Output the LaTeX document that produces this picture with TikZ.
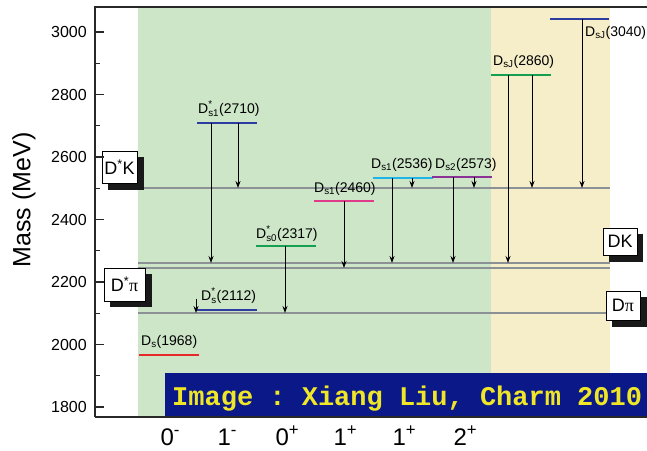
\documentclass[tikz,border=0pt]{standalone}
\usepackage{fontspec}
\usepackage{amsmath}
\setmainfont{Liberation Sans}
\setmonofont{Liberation Mono}
\newfontfamily\grfont{Liberation Serif}
\usetikzlibrary{arrows.meta}
\definecolor{bggreen}{RGB}{205,230,200}
\definecolor{bgyellow}{RGB}{245,238,200}
\definecolor{thr}{RGB}{140,145,150}
\definecolor{bannerbg}{RGB}{10,25,135}
\definecolor{bannertxt}{RGB}{240,230,40}
\definecolor{lvred}{RGB}{232,40,40}
\definecolor{lvblue}{RGB}{45,60,160}
\definecolor{lvgreen}{RGB}{20,160,80}
\definecolor{lvpink}{RGB}{225,60,140}
\definecolor{lvcyan}{RGB}{30,180,230}
\definecolor{lvpurple}{RGB}{140,50,150}
\definecolor{axisc}{RGB}{40,40,40}
\definecolor{shadowc}{RGB}{25,25,25}
\tikzset{
  thrline/.style={draw=thr, line width=2pt},
  lvline/.style={line width=2.4pt},
  decay/.style={draw=black, line width=0.9pt, -{Stealth[length=7pt,width=5pt]}},
  lvlabel/.style={anchor=base west, inner sep=0pt, font=\fontsize{14}{16}\selectfont},
  thbox/.style={draw=black, fill=white, line width=0.8pt, inner sep=0pt,
     font=\fontsize{18}{20}\selectfont},
  ticklabel/.style={anchor=east, inner sep=0pt, font=\fontsize{16}{18}\selectfont},
  jplabel/.style={anchor=base west, inner sep=0pt, font=\fontsize{24}{26}\selectfont},
  axisline/.style={draw=axisc, line width=1.5pt},
}
\begin{document}
\begin{tikzpicture}[x=1pt,y=-1pt]
\useasboundingbox (0,0) rectangle (647,450);
% background regions
\fill[bggreen] (138,7) rectangle (491,417);
\fill[bgyellow] (491,7) rectangle (610,417);
% threshold lines
\coordinate (tDsK) at (138,188);
\coordinate (tA) at (138,263);
\coordinate (tB) at (138,268);
\coordinate (tDpi) at (138,313);
\draw[thrline] (tDsK) -- (610,188);
\draw[thrline] (tA) -- (610,263);
\draw[thrline] (tB) -- (610,268);
\draw[thrline] (tDpi) -- (606,313);
% levels
\draw[lvline, lvred]    (139,355) -- (199,355);
\draw[lvline, lvblue]   (197,310) -- (257,310);
\draw[lvline, lvblue]   (197,123) -- (257,123);
\draw[lvline, lvgreen]  (256,246) -- (316,246);
\draw[lvline, lvpink]   (314,201) -- (374,201);
\draw[lvline, lvcyan]   (373,178) -- (433,178);
\draw[lvline, lvpurple] (432,177) -- (492,177);
\draw[lvline, lvgreen]  (491,75) -- (551,75);
\draw[lvline, lvblue]   (550,19) -- (609,19);
% decay origins
\coordinate (o2112) at (196,299);
\coordinate (o2710a) at (211,123);
\coordinate (o2710b) at (238,123);
\coordinate (o2317) at (285,246);
\coordinate (o2460) at (344,201);
\coordinate (o2536a) at (392,178);
\coordinate (o2536b) at (412,178);
\coordinate (o2573a) at (453,177);
\coordinate (o2573b) at (474,177);
\coordinate (o2860a) at (508,75);
\coordinate (o2860b) at (532,75);
\coordinate (o3040) at (582,19);
% decays
\draw[decay] (o2112) -- (o2112 |- tDpi);
\draw[decay] (o2710a) -- (o2710a |- tA);
\draw[decay] (o2710b) -- (o2710b |- tDsK);
\draw[decay] (o2317) -- (o2317 |- tDpi);
\draw[decay] (o2460) -- (o2460 |- tB);
\draw[decay] (o2536a) -- (o2536a |- tA);
\draw[decay] (o2536b) -- (o2536b |- tDsK);
\draw[decay] (o2573a) -- (o2573a |- tA);
\draw[decay] (o2573b) -- (o2573b |- tDsK);
\draw[decay] (o2860a) -- (o2860a |- tA);
\draw[decay] (o2860b) -- (o2860b |- tDsK);
\draw[decay] (o3040) -- (o3040 |- tDsK);
% level labels
\node[lvlabel] (n1968) at (141,345) {D$_{\text{s}}$(1968)};
\node[lvlabel] (n2112) at (201,300) {D$_{\text{s}}^{\text{*}}$(2112)};
\node[lvlabel] (n2710) at (198,113) {D$_{\text{s1}}^{\text{*}}$(2710)};
\node[lvlabel] (n2317) at (256,238) {D$_{\text{s0}}^{\text{*}}$(2317)};
\node[lvlabel] (n2460) at (314,192) {D$_{\text{s1}}$(2460)};
\node[lvlabel] (n2536) at (371,168) {D$_{\text{s1}}$(2536)};
\node[lvlabel] (n2573) at (435,168) {D$_{\text{s2}}$(2573)};
\node[lvlabel] (n2860) at (493,65) {D$_{\text{sJ}}$(2860)};
\node[lvlabel] (n3040) at (585,36) {D$_{\text{sJ}}$(3040)};
% threshold box shadows
\fill[shadowc] (108,157) rectangle (144,190);
\fill[shadowc] (110,274) rectangle (152,307);
\fill[shadowc] (609,234) rectangle (643,262);
\fill[shadowc] (612,297) rectangle (647,327);
% threshold boxes
\node[thbox, minimum width=35pt, minimum height=32pt] (bDsK) at (119.5,167) {D\textsuperscript{*}K};
\node[thbox, minimum width=41pt, minimum height=33pt] (bDspi) at (124.5,284.5) {D\textsuperscript{*}{\grfont π}};
\node[thbox, minimum width=34pt, minimum height=27pt] (bDK) at (620,241.5) {DK};
\node[thbox, minimum width=34pt, minimum height=29pt] (bDpi) at (623,305.5) {D{\grfont π}};
% banner
\fill[bannerbg] (165,373) rectangle (647,416);
\node[anchor=base west, inner sep=0pt, text=bannertxt, font=\ttfamily\bfseries\fontsize{27}{30}\selectfont] (credit) at (172,405) {Image : Xiang Liu, Charm 2010};
% axes frame
\draw[axisline] (95,417) -- (95,7) -- (647,7);
\draw[axisline] (95,417) -- (647,417);
\foreach \m in {1800,2000,...,3000}{
  \pgfmathsetmacro{\yy}{32+(3000-\m)*0.3125}
  \draw[axisc, line width=1.2pt] (95,\yy) -- (104,\yy);
  \node[ticklabel] (tick\m) at (87,\yy) {\m};
}
\foreach \m in {1900,2100,...,2900}{
  \pgfmathsetmacro{\yy}{32+(3000-\m)*0.3125}
  \draw[axisc, line width=1.2pt] (95,\yy) -- (100,\yy);
}
\node[rotate=90, inner sep=0pt, font=\fontsize{25}{28}\selectfont] (ylab) at (24,200) {Mass (MeV)};
% JP labels
\node[jplabel] (jp1) at (160.3,445) {0\textsuperscript{-}};
\node[jplabel] (jp2) at (217.3,445) {1\textsuperscript{-}};
\node[jplabel] (jp3) at (275.3,445) {0\textsuperscript{+}};
\node[jplabel] (jp4) at (333.3,445) {1\textsuperscript{+}};
\node[jplabel] (jp5) at (392.3,445) {1\textsuperscript{+}};
\node[jplabel] (jp6) at (453.3,445) {2\textsuperscript{+}};
\end{tikzpicture}
\end{document}
